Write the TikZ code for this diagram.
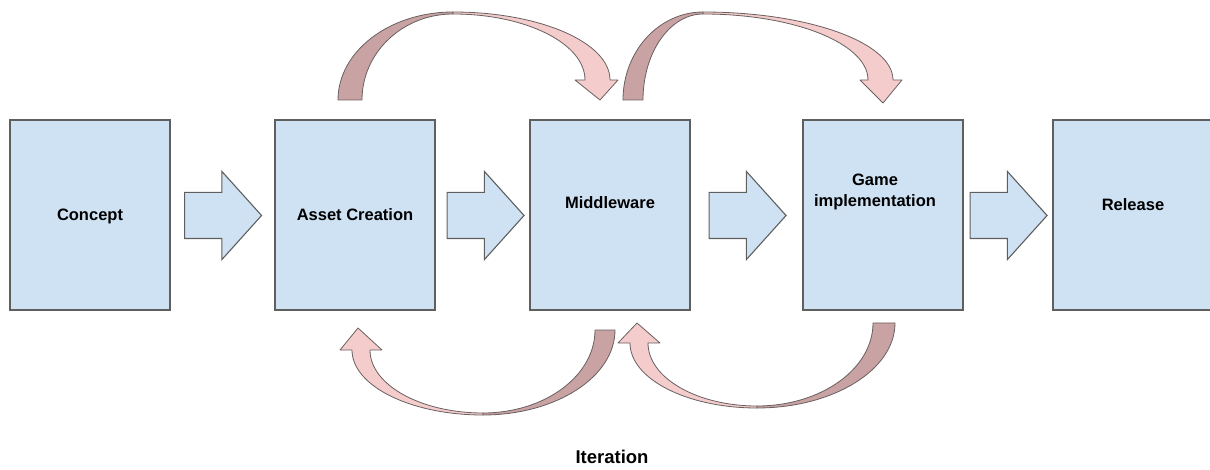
\documentclass[tikz,border=0pt]{standalone}
\usepackage{fontspec}
\setmainfont{Liberation Sans}
\usetikzlibrary{shapes.arrows,calc}

\definecolor{boxblue}{HTML}{CFE2F3}
\definecolor{boxline}{HTML}{5F5F5F}
\definecolor{pinklight}{HTML}{F4CCCC}
\definecolor{pinkdark}{HTML}{C9A2A3}
\definecolor{ribbonline}{HTML}{6A6060}

\tikzset{
    stage/.style={draw=boxline, line width=1.3pt, fill=boxblue, minimum width=160, minimum height=190, inner sep=0},
    stagetext/.style={font=\bfseries\fontsize{16.5}{21}\selectfont, align=center},
    flow/.style={single arrow, draw=boxline, line width=1.1pt, fill=boxblue, minimum height=77, minimum width=87,
        inner sep=0, inner ysep=22.5, single arrow head extend=21, single arrow tip angle=96, anchor=tail},
    ribbonback/.style={fill=pinkdark, draw=ribbonline, line width=0.8pt, line join=round},
    ribbonfront/.style={fill=pinklight, draw=ribbonline, line width=0.8pt, line join=round}
}

\begin{document}
\begin{tikzpicture}[x=1pt, y=-1pt]
    \useasboundingbox (0,0) rectangle (1210,470);

    % stages
    \node[stage] (concept) at (90,215) {};
    \node[stage] (asset) at (355,215) {};
    \node[stage] (mid) at (610,215) {};
    \node[stage] (game) at (883,215) {};
    \node[stage] (release) at (1133,215) {};

    \node[stagetext] (concept-t) at (90,216) {Concept};
    \node[stagetext] (asset-t) at (355,215) {Asset Creation};
    \node[stagetext] (mid-t) at (610,203) {Middleware};
    \node[stagetext] (game-t) at (875,192) {Game\\implementation};
    \node[stagetext] (release-t) at (1133,205) {Release};

    % block arrows between the stages
    \node[flow] (step1) at ($(concept.east)!0.5!(asset.west)+(-38.5,0.5)$) {};
    \node[flow] (step2) at ($(asset.east)!0.5!(mid.west)+(-36,0.5)$) {};
    \node[flow] (step3) at ($(mid.east)!0.5!(game.west)+(-38,0.5)$) {};
    \node[flow] (step4) at ($(game.east)!0.5!(release.west)+(-38.5,0.5)$) {};

    % curved arrows over the top
    \filldraw[ribbonback] (338,100) .. controls (338,51.4) and (389.5,12) .. (453,12)
        -- (453,14) .. controls (402.7,14) and (362,52.5) .. (362,100) -- cycle;
    \filldraw[ribbonfront] (453,12) .. controls (539.7,12) and (610,42.4) .. (610,80)
        -- (618,80) -- (600,100) -- (575,80) -- (585,80)
        .. controls (585,43.5) and (525.9,14) .. (453,14) -- cycle;

    \filldraw[ribbonback] (623,100) .. controls (623,51.4) and (658.8,12) .. (703,12)
        -- (703,14) .. controls (669.9,14) and (643,52.5) .. (643,100) -- cycle;
    \filldraw[ribbonfront] (703,12) .. controls (807.9,12) and (893,42.4) .. (893,80)
        -- (902,80) -- (883,103) -- (860,80) -- (868,80)
        .. controls (868,43.5) and (794.1,14) .. (703,14) -- cycle;

    % curved arrows underneath
    \filldraw[ribbonback] (615,330) .. controls (615,376.9) and (555.9,415) .. (483,415)
        -- (483,413) .. controls (544.9,413) and (595,375.8) .. (595,330) -- cycle;
    \filldraw[ribbonfront] (483,415) .. controls (410.6,415) and (352,385.9) .. (352,350)
        -- (340,350) -- (358,328) -- (382,350) -- (370,350)
        .. controls (370,384.8) and (420.6,413) .. (483,413) -- cycle;

    \filldraw[ribbonback] (895,323) .. controls (895,369.9) and (833.2,408) .. (757,408)
        -- (757,406) .. controls (821.1,406) and (873,368.8) .. (873,323) -- cycle;
    \filldraw[ribbonfront] (757,408) .. controls (686.9,408) and (630,378.9) .. (630,343)
        -- (618,343) -- (637,323) -- (660,343) -- (648,343)
        .. controls (648,377.8) and (696.8,406) .. (757,406) -- cycle;

    \node[font=\bfseries\fontsize{18.5}{22}\selectfont] (iter) at (612,457) {Iteration};
\end{tikzpicture}
\end{document}
